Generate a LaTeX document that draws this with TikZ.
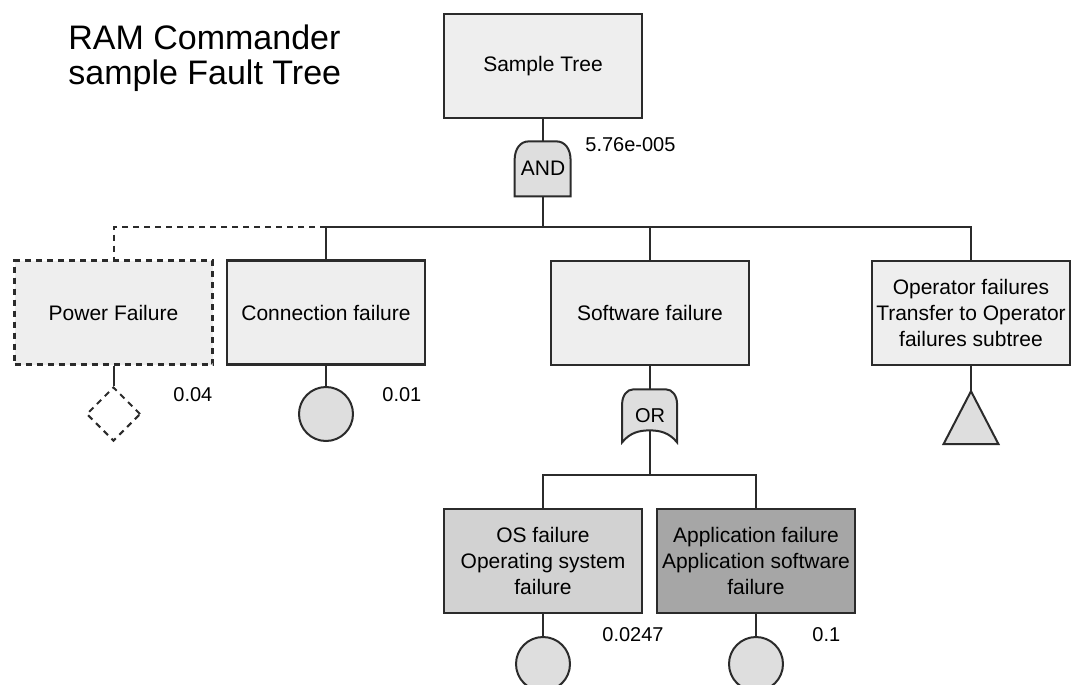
\documentclass[tikz,border=0pt]{standalone}
\usepackage{fontspec}
\setmainfont{Liberation Sans}
\usetikzlibrary{positioning,shapes.geometric,backgrounds}
\definecolor{ink}{HTML}{2B2B2B}
\definecolor{boxgray}{HTML}{EEEEEE}
\definecolor{osgray}{HTML}{D2D2D2}
\definecolor{appgray}{HTML}{A6A6A6}
\definecolor{gategray}{HTML}{DEDEDE}
\tikzset{
  evt/.style={rectangle, draw=ink, fill=boxgray, line width=1.2pt, minimum width=99pt,
              minimum height=52pt, inner sep=2pt, align=center, font=\fontsize{10.5}{13}\selectfont},
  basic/.style={circle, draw=ink, fill=gategray, line width=1pt, minimum size=27pt, inner sep=0pt},
  gate/.style={draw=ink, fill=gategray, line width=1pt},
  gatetxt/.style={inner sep=0pt, font=\fontsize{10.5}{12}\selectfont},
  val/.style={inner sep=0pt, anchor=west, font=\fontsize{10}{12}\selectfont},
  wire/.style={draw=ink, line width=1pt},
  ghost/.style={dash pattern=on 3pt off 2.5pt},
}

\begin{document}
\begin{tikzpicture}[x=0.5pt, y=-0.5pt]
  \useasboundingbox (0,0) rectangle (1072,685);
  \node[anchor=north west, inner sep=0pt, align=left, font=\fontsize{17}{17.5}\selectfont] (title) at (68,24)
    {RAM Commander\\sample Fault Tree};

  \node[evt] (top) at (543,66) {Sample Tree};
  \node[gatetxt, minimum width=28pt, minimum height=27.5pt] (andg) at (543,168.5) {AND};
  \node[val] (pTop) at (585,145) {5.76e-005};
  \coordinate (busA) at (543,227);

  \node[evt, ghost] (power) at (113.5,312.5) {Power Failure};
  \node[evt] (conn) at (326,312.5) {Connection failure};
  \node[evt] (soft) at (650,313) {Software failure};
  \node[evt] (oper) at (971,313) {Operator failures\\Transfer to Operator\\failures subtree};

  \node[diamond, draw=ink, ghost, line width=1pt, aspect=1, minimum size=27pt, inner sep=0pt] (powd) at (113.5,414) {};
  \node[val] (pPow) at (173,395) {0.04};
  \node[basic] (connb) at (326,414) {};
  \node[val] (pConn) at (382,395) {0.01};
  \node[gatetxt, minimum width=27.5pt, minimum height=26.5pt, font=\fontsize{10}{12}\selectfont] (org) at (650,415.5) {OR};

  \coordinate (busB) at (650,475);
  \node[evt, fill=osgray] (osf) at (543,561) {OS failure\\Operating system\\failure};
  \node[evt, fill=appgray] (appf) at (756,561) {Application failure\\Application software\\failure};
  \node[basic] (osb) at (543,664) {};
  \node[val] (pOs) at (602,635) {0.0247};
  \node[basic] (appb) at (756,664) {};
  \node[val] (pApp) at (812,635) {0.1};

  \begin{scope}[on background layer]
    \draw[gate] (andg.south west) -- ++(0,-36)
      .. controls +(0,-12) and +(-8,0) .. ++(14,-19) -- ++(28,0)
      .. controls +(8,0) and +(0,-12) .. ++(14,19) -- ++(0,36) -- cycle;
    \draw[gate] (org.south west) -- ++(0,-38)
      .. controls +(0,-9) and +(-6,0) .. ++(11,-15) -- ++(33,0)
      .. controls +(6,0) and +(0,-9) .. ++(11,15) -- ++(0,38)
      .. controls +(-8,-10) and +(10,0) .. ++(-27.5,-12)
      .. controls +(-10,0) and +(8,-10) .. (org.south west) -- cycle;
    \draw[gate] (oper.south) ++(0,25) coordinate (opt) -- ++(-27.5,53) -- ++(55,0) -- cycle;
  \end{scope}

  \draw[wire] (top.south) -- (andg.north);
  \draw[wire] (andg.south) -- (busA);
  \draw[wire] (conn.north) |- (busA) -| (oper.north);
  \draw[wire] (soft.north) -- (soft.north |- busA);
  \draw[wire, ghost] (conn.north |- busA) -| (power.north);
  \draw[wire] (power.south) -- (powd.north);
  \draw[wire] (conn.south) -- (connb.north);
  \draw[wire] (soft.south) -- (org.north);
  \draw[wire] (oper.south) -- (opt);
  \draw[wire] ([yshift=6pt]org.south) -- (busB);
  \draw[wire] (osf.north) |- (busB) -| (appf.north);
  \draw[wire] (osf.south) -- (osb.north);
  \draw[wire] (appf.south) -- (appb.north);
\end{tikzpicture}
\end{document}
